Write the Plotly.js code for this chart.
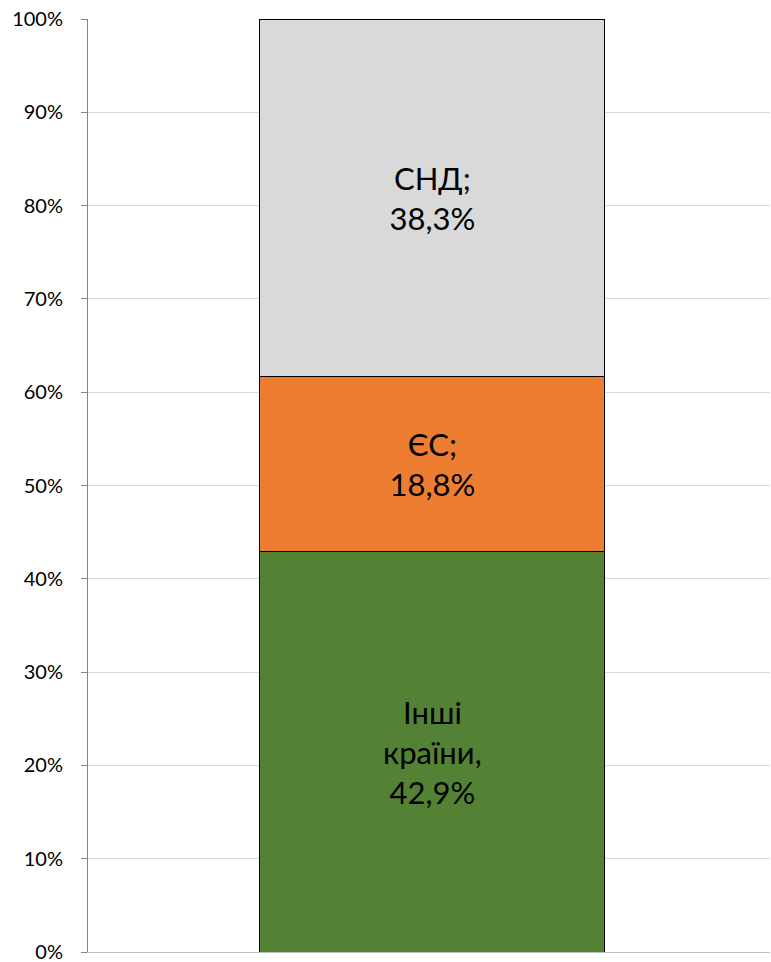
<!DOCTYPE html>
<html>
<head>
<meta charset="utf-8">
<script src="https://cdn.plot.ly/plotly-3.0.1.min.js"></script>
<style>html,body{margin:0;padding:0;background:#fff}</style>
</head>
<body>
<div id="chart" style="width:771px;height:962px"></div>
<script>
const category = ["Структура"];
const seriesNames = ["Інші країни", "ЄС", "СНД"];
const seriesValues = [0.429, 0.188, 0.383];
const seriesLabels = ["Інші<br>країни,<br>42,9%", "ЄС;<br>18,8%", "СНД;<br>38,3%"];
const seriesColors = ["#548235", "#ED7D31", "#D9D9D9"];
const tickVals = [0, 0.1, 0.2, 0.3, 0.4, 0.5, 0.6, 0.7, 0.8, 0.9, 1.0];
const tickText = ["0%", "10%", "20%", "30%", "40%", "50%", "60%", "70%", "80%", "90%", "100%"];

const traces = seriesNames.map((n, i) => ({
  type: "bar",
  name: n,
  x: category,
  y: [seriesValues[i]],
  text: [seriesLabels[i]],
  textposition: "inside",
  insidetextanchor: "middle",
  textangle: 0,
  constraintext: "none",
  textfont: {family: "Lato, 'Open Sans', sans-serif", size: 31, color: "#000"},
  marker: {color: seriesColors[i], line: {color: "#000", width: 1}},
  width: 0.506,
  hoverinfo: "none"
}));

const layout = {
  barmode: "stack",
  showlegend: false,
  width: 771,
  height: 962,
  margin: {l: 88, r: 1, t: 19, b: 10},
  paper_bgcolor: "#fff",
  plot_bgcolor: "#fff",
  font: {family: "Lato, 'Open Sans', sans-serif", size: 20, color: "#000"},
  xaxis: {
    showticklabels: false,
    showgrid: false,
    zeroline: false,
    showline: true,
    linecolor: "#BFBFBF",
    linewidth: 1,
    range: [-0.505, 0.495]
  },
  yaxis: {
    range: [0, 1],
    tickvals: tickVals,
    ticktext: tickText,
    showgrid: true,
    gridcolor: "#D9D9D9",
    gridwidth: 1,
    zeroline: false,
    showline: true,
    linecolor: "#868686",
    linewidth: 1,
    ticks: "outside",
    ticklen: 6,
    tickcolor: "#868686",
    ticklabelstandoff: 14,
    ticklabeloverflow: "allow",
    tickfont: {family: "Lato, 'Open Sans', sans-serif", size: 20, color: "#000"}
  }
};

Plotly.newPlot("chart", traces, layout, {displayModeBar: false, staticPlot: true});
</script>
</body>
</html>
